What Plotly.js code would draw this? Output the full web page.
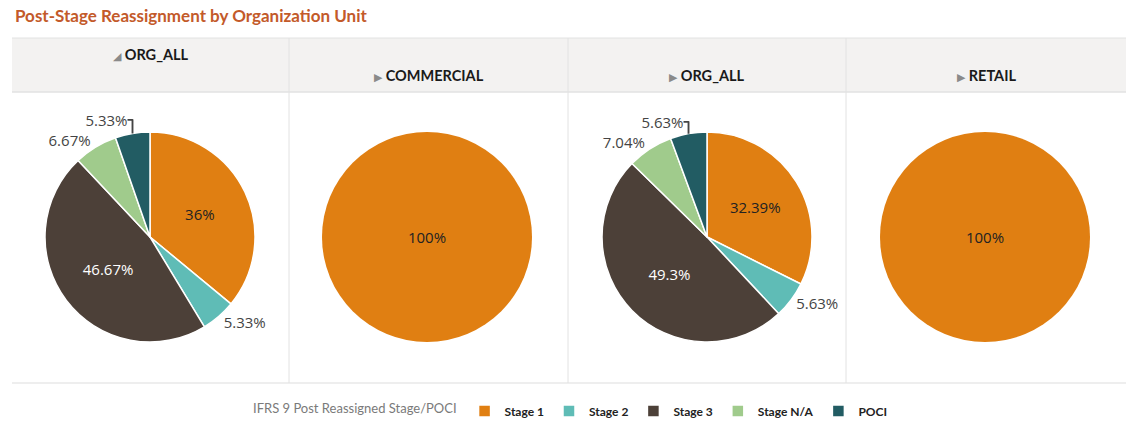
<!DOCTYPE html>
<html>
<head>
<meta charset="utf-8">
<script src="https://cdn.plot.ly/plotly-3.0.1.min.js"></script>
<style>
  html, body { margin: 0; padding: 0; background: #fff; }
  #chart { width: 1126px; height: 421px; }
</style>
</head>
<body>
<div id="chart"></div>
<script>
// column headers (organization units)
let orgUnits = ['ORG_ALL', 'COMMERCIAL', 'ORG_ALL', 'RETAIL'];

// legend categories
let stages = ['Stage 1', 'Stage 2', 'Stage 3', 'Stage N/A', 'POCI'];
let stageColors = ['#e07f12', '#5fbcb6', '#4c4038', '#a0cb8c', '#225c63'];

// share of each stage (%) per column
let orgAllA = [36, 5.33, 46.67, 6.67, 5.33];
let commercial = [100, 0, 0, 0, 0];
let orgAllB = [32.39, 5.63, 49.3, 7.04, 5.63];
let retail = [100, 0, 0, 0, 0];

let columns = [orgAllA, commercial, orgAllB, retail];

// page size helpers (pixels -> paper fractions)
let W = 1126, H = 421;
let px = x => x / W;
let py = y => 1 - y / H;

// column edges and pie placement
let colEdges = [12, 289, 568, 846, 1126];
let pieCenters = [150, 427, 707, 985];
let pieTop = 132, pieBottom = 342;

function pctText(v) {
    return v === 0 ? '' : (+v.toFixed(2)) + '%';
}

let labelFont = 'Open Sans, sans-serif';

// one pie trace per column
let data = columns.map((vals, i) => {
    let r = (pieBottom - pieTop) / 2;
    let full = vals.filter(v => v > 0).length === 1;
    return {
        type: 'pie',
        labels: stages,
        values: vals,
        text: vals.map(pctText),
        textinfo: 'text',
        sort: false,
        direction: 'clockwise',
        rotation: 0,
        showlegend: i === 0,
        marker: {
            colors: stageColors,
            line: { color: '#ffffff', width: vals.map(v => (v === 0 || full) ? 0 : 1.5) }
        },
        textposition: vals.map(v => v >= 20 ? 'inside' : 'outside'),
        insidetextorientation: 'horizontal',
        insidetextfont: {
            family: labelFont, size: 15,
            color: stages.map((s, k) => k === 2 ? '#ffffff' : '#222222')
        },
        outsidetextfont: { family: labelFont, size: 15, color: '#444444' },
        domain: {
            x: [px(pieCenters[i] - r), px(pieCenters[i] + r)],
            y: [py(pieBottom), py(pieTop)]
        },
        hoverinfo: 'label+text'
    };
});

// header band, dividers and baseline
let shapes = [
    { type: 'rect', xref: 'paper', yref: 'paper',
      x0: px(12), x1: px(1126), y0: py(92), y1: py(38),
      fillcolor: '#f3f2f1', line: { width: 0 }, layer: 'below' },
    { type: 'line', xref: 'paper', yref: 'paper',
      x0: px(12), x1: px(1126), y0: py(38), y1: py(38),
      line: { color: '#e2e2e2', width: 1 } },
    { type: 'line', xref: 'paper', yref: 'paper',
      x0: px(12), x1: px(1126), y0: py(92), y1: py(92),
      line: { color: '#e2e2e2', width: 1.5 } },
    { type: 'line', xref: 'paper', yref: 'paper',
      x0: px(12), x1: px(1126), y0: py(383), y1: py(383),
      line: { color: '#dddddd', width: 1 } }
];
colEdges.slice(1, 4).forEach(x => {
    shapes.push({ type: 'line', xref: 'paper', yref: 'paper',
        x0: px(x), x1: px(x), y0: py(383), y1: py(38),
        line: { color: '#e2e2e2', width: 1 } });
});

// column header labels
let annotations = orgUnits.map((name, i) => {
    let first = i === 0;
    let arrow = first ? '◢' : '▶';
    return {
        xref: 'paper', yref: 'paper',
        x: px((colEdges[i] + colEdges[i + 1]) / 2), y: py(first ? 55 : 75),
        xanchor: 'center', yanchor: 'middle',
        text: '<span style="color:#8a8a8a;font-size:11px">' + arrow + '</span> <b>' + name + '</b>',
        showarrow: false,
        font: { family: 'Lato, sans-serif', size: 14.5, color: '#1a1a1a' }
    };
});

let layout = {
    width: W,
    height: H,
    margin: { l: 0, r: 0, t: 0, b: 0, autoexpand: false },
    paper_bgcolor: '#ffffff',
    title: {
        text: '<b>Post-Stage Reassignment by Organization Unit</b>',
        x: px(15), xanchor: 'left', xref: 'container',
        y: py(16), yanchor: 'middle', yref: 'container',
        font: { family: 'Lato, sans-serif', size: 17, color: '#c35a2a' }
    },
    showlegend: true,
    legend: {
        orientation: 'h',
        xref: 'container', yref: 'container',
        x: 0.508, xanchor: 'center',
        y: py(411), yanchor: 'middle',
        font: { family: 'Lato, sans-serif', size: 12, color: '#222222', weight: 'bold' },
        title: {
            text: 'IFRS 9 Post Reassigned Stage/POCI',
            side: 'left',
            font: { family: 'Lato, sans-serif', size: 13, color: '#7a7a7a', weight: 'normal' }
        },
        traceorder: 'normal'
    },
    shapes: shapes,
    annotations: annotations
};

Plotly.newPlot('chart', data, layout, { displayModeBar: false, staticPlot: true });
</script>
</body>
</html>
